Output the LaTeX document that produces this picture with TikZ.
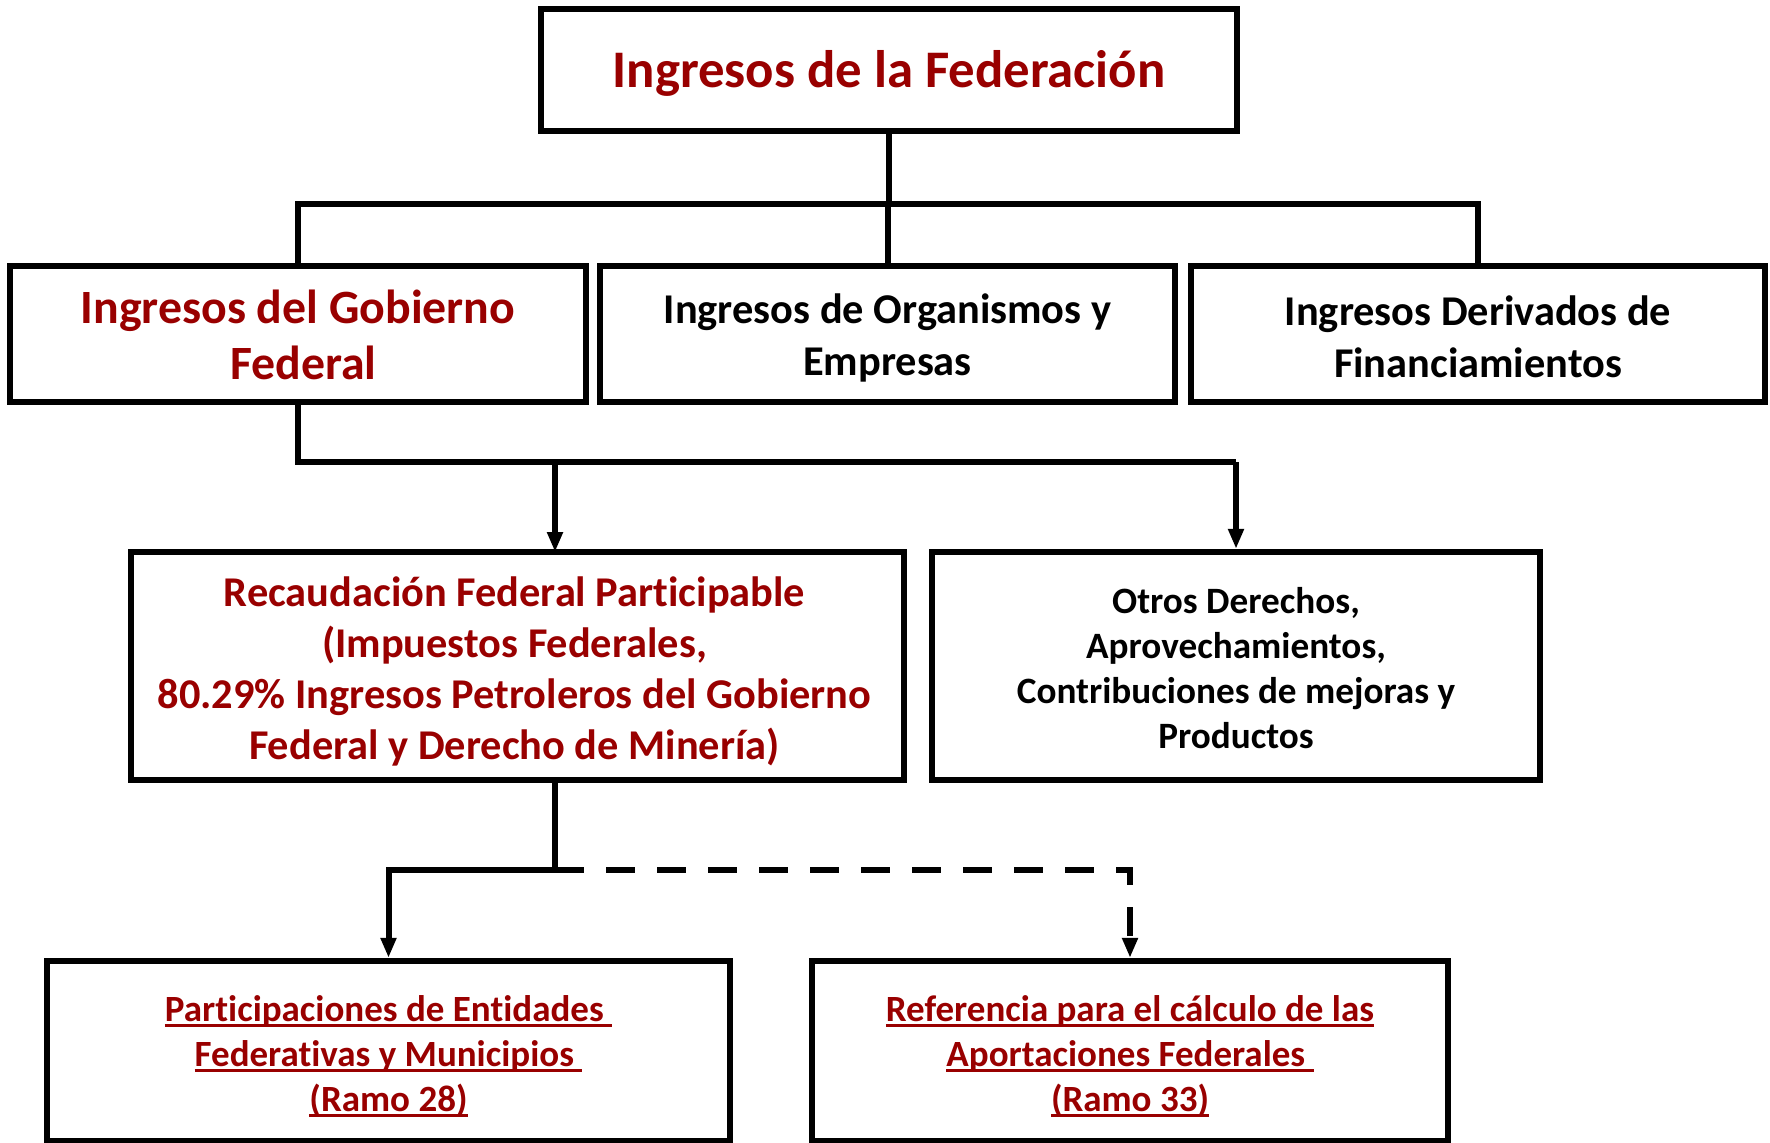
\documentclass[tikz,border=0pt]{standalone}
\usepackage{fontspec}
\setmainfont{Carlito}[Ligatures={NoCommon}]
\usetikzlibrary{arrows.meta}
\definecolor{dred}{RGB}{153,0,0}
\newcommand\ulred[1]{\sbox0{#1}\rlap{\rule[-3pt]{\wd0}{1.5pt}}\usebox0}
\begin{document}
\begin{tikzpicture}[x=0.5pt,y=-0.5pt,
  box/.style={draw, line width=3.2pt, inner sep=0pt, fill=white},
  txt/.style={inner sep=0pt, align=center, font=\bfseries},
  conn/.style={line width=3pt},
  arr/.style={line width=3pt, -{Triangle[length=10pt,width=7.5pt]}},
  dashconn/.style={line width=3pt, dash pattern=on 14.5pt off 11pt, -{Triangle[length=10pt,width=7.5pt]}}]
\useasboundingbox[fill=white] (0,0) rectangle (1770,1142);
% boxes
\node[box, minimum width=348pt, minimum height=61pt] (T) at (889,70) {};
\node[box, minimum width=288pt, minimum height=68pt] (A) at (298,334) {};
\node[box, minimum width=287.5pt, minimum height=68pt] (B) at (887.5,334) {};
\node[box, minimum width=287pt, minimum height=68pt] (C) at (1478,334) {};
\node[box, minimum width=386.5pt, minimum height=114pt] (D) at (517.5,666) {};
\node[box, minimum width=304pt, minimum height=114pt] (E) at (1236,666) {};
\node[box, minimum width=341.5pt, minimum height=90pt] (F) at (388.5,1051) {};
\node[box, minimum width=318pt, minimum height=90pt] (G) at (1130,1051) {};
% texts
\node[txt, text=dred, font=\fontsize{26.4}{32}\selectfont\bfseries] (Tt) at ([yshift=-1.7pt]T.center) {Ingresos de la Federación};
\node[txt, text=dred, font=\fontsize{23.9}{28}\selectfont\bfseries] (At) at ([yshift=-0.6pt]A.center) {Ingresos del Gobierno\\ \hspace*{5.4pt}Federal};
\node[txt, font=\fontsize{21.2}{26}\selectfont\bfseries] (Bt) at ([yshift=-2.2pt]B.center) {Ingresos de Organismos y\ \\ Empresas};
\node[txt, font=\fontsize{21.2}{26}\selectfont\bfseries] (Ct) at ([yshift=-1.2pt]C.center) {Ingresos Derivados de\ \\ Financiamientos};
\node[txt, text=dred, font=\fontsize{21.2}{25.5}\selectfont\bfseries] (Dt) at ([yshift=-2.5pt,xshift=-1.5pt]D.center) {Recaudación Federal Participable\\ (Impuestos Federales,\ \\ 80.29\% Ingresos Petroleros del Gobierno\ \\ Federal y Derecho de Minería)};
\node[txt, font=\fontsize{18.6}{22.5}\selectfont\bfseries] (Et) at ([yshift=-1.2pt]E.center) {Otros Derechos,\ \\ Aprovechamientos,\ \\ Contribuciones de mejoras y\\ Productos};
\node[txt, text=dred, font=\fontsize{18.5}{22.5}\selectfont\bfseries] (Ft) at ([yshift=-2.6pt]F.center) {\ulred{Participaciones de Entidades\ }\\ \ulred{Federativas y Municipios\ }\\ \ulred{(Ramo 28)}};
\node[txt, text=dred, font=\fontsize{18.5}{22.5}\selectfont\bfseries] (Gt) at ([yshift=-2.6pt]G.center) {\ulred{Referencia para el cálculo de las}\\ \ulred{Aportaciones Federales\ }\\ \ulred{(Ramo 33)}};
% coordinates
\coordinate (bus1) at (0,204);
\coordinate (bus2) at (0,462);
\coordinate (bus3) at (0,870);
\coordinate (din) at (555,552);
\coordinate (dout) at (555,780);
% connectors
\draw[conn] (T.south) -- (T.south |- bus1);
\draw[conn] (A.north) -- (A.north |- bus1) -- (C.north |- bus1) -- (C.north);
\draw[conn] (B.north) -- (B.north |- bus1);
\draw[conn] (A.south) -- (A.south |- bus2) -- (E.north |- bus2);
\draw[arr] (din |- bus2) -- (din);
\draw[arr] (E.north |- bus2) -- (E.north);
\draw[dashconn] (dout |- bus3) -| (G.north);
\draw[arr] (dout) -- (dout |- bus3) -| (F.north);
\end{tikzpicture}
\end{document}
